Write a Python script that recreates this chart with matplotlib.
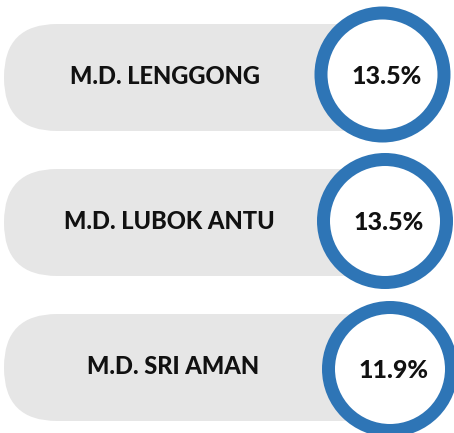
import matplotlib
matplotlib.use("Agg")
import matplotlib.pyplot as plt
from matplotlib.patches import FancyBboxPatch, Ellipse

labels = ["M.D. LENGGONG", "M.D. LUBOK ANTU", "M.D. SRI AMAN"]
values = [13.5, 13.5, 11.9]

W, H = 454, 433
fig = plt.figure(figsize=(W / 100, H / 100), dpi=100)
ax = fig.add_axes([0, 0, 1, 1])
ax.set_xlim(0, W)
ax.set_ylim(H, 0)
ax.axis("off")

gray = "#e6e6e6"
blue = "#2e75b6"
font = "Lato"

pill_centers = [77.5, 222.5, 367.5]
circle_centers = [(382.5, 74.5), (385, 221), (390, 369)]
label_x = [165, 169, 173]

for i, (lab, val) in enumerate(zip(labels, values)):
    cy = pill_centers[i]
    h = 107
    pill = FancyBboxPatch((4, cy - h / 2), 390, h,
                          boxstyle="round,pad=0,rounding_size=53",
                          fc=gray, ec="none", zorder=1)
    ax.add_patch(pill)
    ax.text(label_x[i], cy - 1, lab, ha="center", va="center",
            fontsize=17, fontweight=900, family=font, color="#111111", zorder=3)
    cx, ccy = circle_centers[i]
    r = 68 - 6.5
    ring = Ellipse((cx, ccy), 2 * r, 2 * r, fc="white", ec=blue, lw=13 * 0.72, zorder=4)
    ax.add_patch(ring)
    ax.text(cx + 4, ccy + 2, f"{val:.1f}%", ha="center", va="center",
            fontsize=18, fontweight=900, family=font, color="#111111", zorder=5)

fig.savefig("out.png", dpi=100)
